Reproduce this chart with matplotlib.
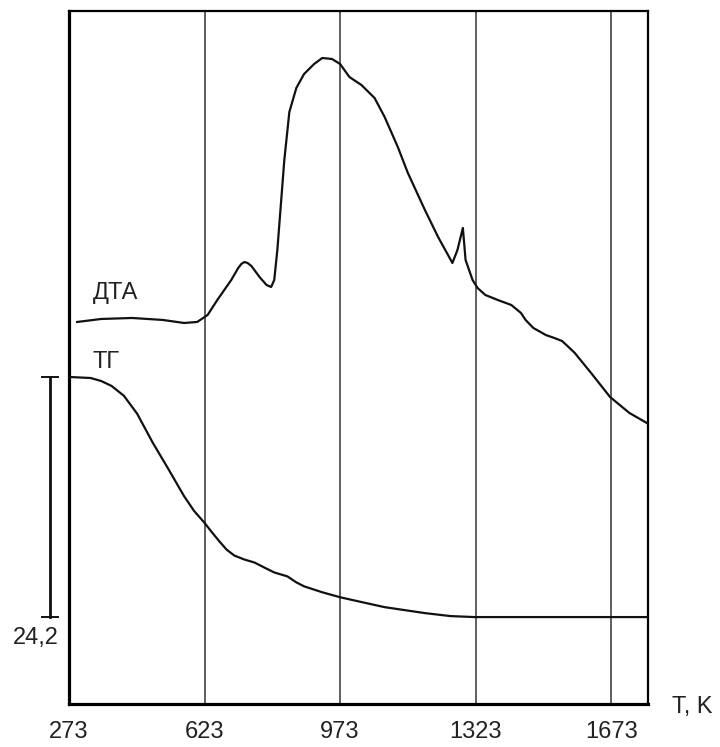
import matplotlib
matplotlib.use("Agg")
import matplotlib.pyplot as plt
import matplotlib.transforms as mtransforms

plt.rcParams['font.family'] = ['Liberation Sans', 'DejaVu Sans']

# DTA curve (temperature, K ; signal, arbitrary units)
dta_t = [294, 356, 436, 516, 570, 604, 631, 656, 692, 710, 718, 726, 734, 744,
         765, 783, 795, 803, 811, 819, 829, 842, 860, 880, 906, 927, 952, 973,
         997, 1028, 1062, 1088, 1122, 1148, 1192, 1226, 1263, 1276, 1290, 1297,
         1315, 1328, 1348, 1380, 1415, 1440, 1452, 1472, 1504, 1526, 1546, 1560,
         1579, 1621, 1670, 1720, 1765]
dta_v = [38.2, 38.5, 38.6, 38.4, 38.1, 38.2, 38.9, 40.4, 42.4, 43.6, 44.0, 44.2,
         44.1, 43.8, 42.7, 41.9, 41.7, 42.4, 45.4, 49.4, 54.4, 59.2, 61.6, 63.0,
         64.0, 64.6, 64.5, 64.0, 62.7, 61.9, 60.6, 58.7, 55.7, 53.1, 49.4, 46.7,
         44.1, 45.4, 47.6, 44.4, 42.4, 41.6, 40.9, 40.4, 39.9, 39.1, 38.4, 37.6,
         36.9, 36.6, 36.3, 35.8, 35.1, 33.1, 30.7, 29.1, 28.1]

# TG curve (temperature, K ; mass loss, %)
tg_t = [276, 329, 356, 383, 415, 449, 489, 530, 570, 596, 623, 641, 662, 680,
        700, 726, 752, 777, 803, 837, 860, 880, 927, 973, 1030, 1088, 1192,
        1258, 1320, 1765]
tg_loss = [0.0, 0.1, 0.4, 0.9, 1.9, 3.7, 6.6, 9.3, 12.0, 13.5, 14.7, 15.6,
           16.6, 17.4, 18.0, 18.4, 18.7, 19.2, 19.7, 20.1, 20.7, 21.1, 21.7,
           22.2, 22.7, 23.2, 23.8, 24.1, 24.2, 24.2]

grid_t = [623, 973, 1323, 1673]
tick_t = [273, 623, 973, 1323, 1673]
scale_loss = 24.2

fig = plt.figure(figsize=(7.2, 7.47), dpi=100)
ax = fig.add_axes([0.0958, 0.0576, 0.8042, 0.9277])
ax.set_xlim(273, 1768)
ax.set_ylim(0, 69.3)

for t in grid_t:
    ax.axvline(t, color='#333333', lw=1.1, zorder=1)

ax.plot(dta_t, dta_v, color='#111111', lw=1.6, zorder=3)

ax.set_xticks(tick_t)
ax.set_xticklabels([str(t) for t in tick_t])
ax.set_yticks([])
ax.tick_params(axis='x', length=0, pad=12, labelsize=17, colors='#222222')
for side in ['left', 'bottom']:
    ax.spines[side].set_linewidth(2.3)
for side in ['top', 'right']:
    ax.spines[side].set_linewidth(1.6)

# TG on its own y scale (mass loss grows downward)
ax_tg = ax.twinx()
ax_tg.set_ylim(32.96, -36.9)
ax_tg.set_yticks([])
for s in ax_tg.spines.values():
    s.set_visible(False)
ax_tg.plot(tg_t, tg_loss, color='#111111', lw=1.6, zorder=3)

# scale bar for the TG curve
tr = mtransforms.blended_transform_factory(ax.transAxes, ax_tg.transData)
bx = -0.0328
ax_tg.plot([bx, bx], [0, scale_loss], transform=tr, clip_on=False,
           color='#111111', lw=2.0)
for yv in [0, scale_loss]:
    ax_tg.plot([bx - 0.0138, bx + 0.0138], [yv, yv], transform=tr,
               clip_on=False, color='#111111', lw=1.4)
ax_tg.text(-0.057, 26.3, '24,2', transform=tr, ha='center', va='center',
           fontsize=17, color='#222222')

ax.text(335, 41.1, 'ДТА', ha='left', va='center', fontsize=17, color='#222222')
ax_tg.text(335, -1.5, 'ТГ', ha='left', va='center', fontsize=17, color='#222222')

fig.text(0.933, 1 - 707 / 747, 'T, K', ha='left', va='center', fontsize=17,
         color='#222222')

fig.savefig('out.png', dpi=100, facecolor='white')
